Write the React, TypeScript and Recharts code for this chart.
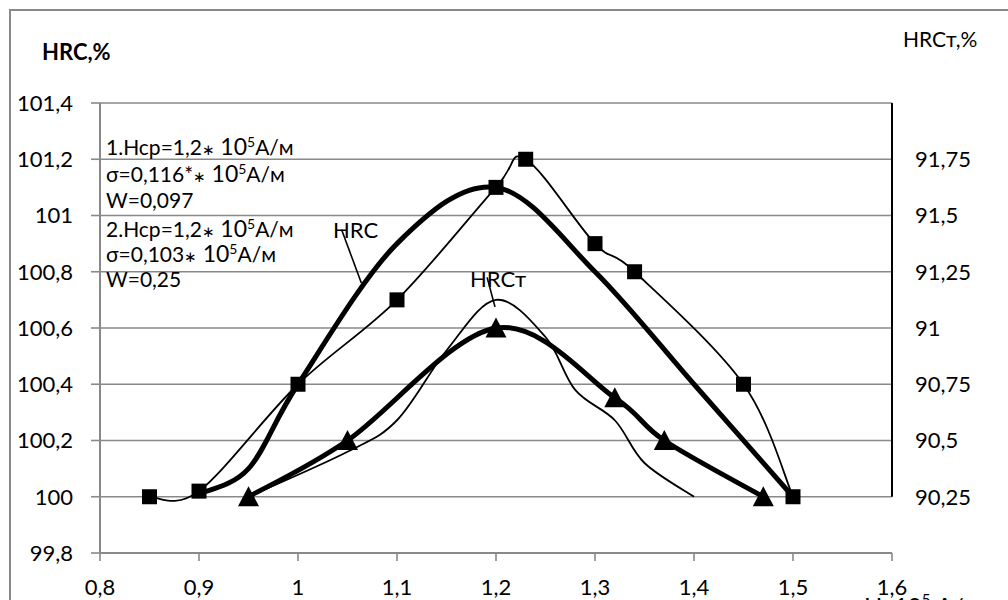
import React from 'react';
import { LineChart, Line, XAxis, YAxis, CartesianGrid, ReferenceLine } from 'recharts';

// Axis ticks
const xTicks = [0.8, 0.9, 1.0, 1.1, 1.2, 1.3, 1.4, 1.5, 1.6];
const leftTicks = [99.8, 100, 100.2, 100.4, 100.6, 100.8, 101, 101.2, 101.4];
const rightTicks = [90.25, 90.5, 90.75, 91, 91.25, 91.5, 91.75];

// HRC, measured points (thin line, squares)
const hrcMeasX = [0.85, 0.9, 1.0, 1.1, 1.2, 1.23, 1.3, 1.34, 1.45, 1.5];
const hrcMeasY = [100, 100.02, 100.4, 100.7, 101.1, 101.2, 100.9, 100.8, 100.4, 100];

// HRC, theoretical curve (thick line)
const hrcCurveX = [0.9, 0.95, 1.0, 1.1, 1.2, 1.3, 1.4, 1.5];
const hrcCurveY = [100.01, 100.1, 100.4, 100.9, 101.1, 100.8, 100.4, 100];

// HRCт, measured (thick line, triangles) - right axis
const hrctMeasX = [0.95, 1.05, 1.2, 1.32, 1.37, 1.47];
const hrctMeasY = [90.25, 90.5, 91.0, 90.69, 90.5, 90.25];

// HRCт, thin curve - right axis
const hrctCurveX = [0.95, 1.05, 1.1, 1.15, 1.2, 1.25, 1.28, 1.32, 1.35, 1.4];
const hrctCurveY = [90.25, 90.45, 90.59, 90.9, 91.125, 90.96, 90.725, 90.59, 90.4, 90.25];

const rows = (xs: number[], ys: number[]) => xs.map((x, i) => ({ x, y: ys[i] }));
const hrcMeas = rows(hrcMeasX, hrcMeasY);
const hrcCurve = rows(hrcCurveX, hrcCurveY);
const hrctMeas = rows(hrctMeasX, hrctMeasY);
const hrctCurve = rows(hrctCurveX, hrctCurveY);

// annotation leader lines (data coordinates, left axis)
const hrcLeader = [{ x: 1.044, y: 100.95 }, { x: 1.064, y: 100.76 }];
const hrctLeader = [{ x: 1.191, y: 100.78 }, { x: 1.199, y: 100.675 }];
const rightAxisLine = [{ x: 1.6, y: 90.25 }, { x: 1.6, y: 92 }];

const fmt = (v: number) => String(Math.round(v * 100) / 100).replace('.', ',');

const GRID = '#898989';
const FONT = 'Lato';

// Smoothed curve similar to spreadsheet "smoothed line"
const excelSmooth = (context: any) => {
  let pts: number[][] = [];
  return {
    areaStart() {},
    areaEnd() {},
    lineStart() {
      pts = [];
    },
    point(x: number, y: number) {
      pts.push([+x, +y]);
    },
    lineEnd() {
      const n = pts.length;
      if (n === 0) return;
      context.moveTo(pts[0][0], pts[0][1]);
      for (let i = 0; i < n - 1; i++) {
        const p0 = pts[i > 0 ? i - 1 : 0];
        const p1 = pts[i];
        const p2 = pts[i + 1];
        const p3 = pts[i + 2 < n ? i + 2 : n - 1];
        context.bezierCurveTo(
          p1[0] + (p2[0] - p0[0]) / 6,
          p1[1] + (p2[1] - p0[1]) / 6,
          p2[0] - (p3[0] - p1[0]) / 6,
          p2[1] - (p3[1] - p1[1]) / 6,
          p2[0],
          p2[1]
        );
      }
    },
  };
};

const Square = (props: any) => {
  const { cx, cy, index } = props;
  if (cx == null || cy == null) return <g key={`sq${index}`} />;
  return <rect key={`sq${index}`} x={cx - 7.5} y={cy - 7.5} width={15} height={15} fill="#000" />;
};

const Triangle = (props: any) => {
  const { cx, cy, index } = props;
  if (cx == null || cy == null) return <g key={`tr${index}`} />;
  return (
    <polygon
      key={`tr${index}`}
      points={`${cx},${cy - 10.5} ${cx - 10.5},${cy + 9.5} ${cx + 10.5},${cy + 9.5}`}
      fill="#000"
    />
  );
};

const tickStyle = { fill: '#000', fontSize: 22, fontFamily: FONT };

const Unit = ({ pre }: { pre: React.ReactNode }) => (
  <>
    {pre}
    <tspan fontSize={15}>∗</tspan>
    <tspan> </tspan>
    <tspan fontSize={23}>10</tspan>
    <tspan fontSize={14} dy={-8}>5</tspan>
    <tspan dy={8}>A/м</tspan>
  </>
);

export default function App() {
  return (
    <div
      style={{
        position: 'absolute',
        left: 0,
        top: 0,
        width: 1008,
        height: 600,
        overflow: 'hidden',
        background: '#fff',
        fontFamily: FONT,
      }}
    >
      <div
        style={{
          position: 'absolute',
          left: 9,
          top: 9,
          width: 1010,
          height: 600,
          borderLeft: `2px solid ${GRID}`,
          borderTop: `2px solid ${GRID}`,
        }}
      />
      <div style={{ position: 'absolute', left: 0, top: 0 }}>
        <LineChart width={1008} height={620} margin={{ top: 103, right: 10, bottom: 22, left: 10 }}>
          <CartesianGrid yAxisId="left" vertical={false} stroke={GRID} strokeWidth={1.6} />
          <XAxis
            type="number"
            dataKey="x"
            domain={[0.8, 1.6]}
            ticks={xTicks}
            interval={0}
            allowDataOverflow
            tickFormatter={fmt}
            tick={tickStyle}
            tickLine={{ stroke: GRID, strokeWidth: 1.6 }}
            axisLine={{ stroke: GRID, strokeWidth: 2 }}
            tickSize={8}
            tickMargin={18}
            height={45}
          />
          <YAxis
            yAxisId="left"
            orientation="left"
            type="number"
            domain={[99.8, 101.4]}
            ticks={leftTicks}
            interval={0}
            allowDataOverflow
            tickFormatter={fmt}
            tick={tickStyle}
            tickLine={{ stroke: GRID, strokeWidth: 1.6 }}
            axisLine={{ stroke: GRID, strokeWidth: 2 }}
            tickSize={9}
            tickMargin={18}
            width={90}
          />
          <YAxis
            yAxisId="right"
            orientation="right"
            type="number"
            domain={[90, 92]}
            ticks={rightTicks}
            interval={0}
            allowDataOverflow
            tickFormatter={fmt}
            tick={tickStyle}
            tickLine={false}
            axisLine={false}
            tickSize={0}
            tickMargin={23}
            width={106}
          />
          <ReferenceLine yAxisId="right" segment={rightAxisLine} stroke="#000" strokeWidth={2} ifOverflow="visible" />
          <ReferenceLine yAxisId="left" segment={hrcLeader} stroke="#000" strokeWidth={1.6} ifOverflow="visible" />
          <ReferenceLine yAxisId="left" segment={hrctLeader} stroke="#000" strokeWidth={1.6} ifOverflow="visible" />
          <Line
            yAxisId="left"
            data={hrcMeas}
            dataKey="y"
            type={excelSmooth as any}
            stroke="#000"
            strokeWidth={1.8}
            dot={Square}
            activeDot={false}
            isAnimationActive={false}
          />
          <Line
            yAxisId="left"
            data={hrcCurve}
            dataKey="y"
            type={excelSmooth as any}
            stroke="#000"
            strokeWidth={5}
            dot={false}
            activeDot={false}
            isAnimationActive={false}
          />
          <Line
            yAxisId="right"
            data={hrctCurve}
            dataKey="y"
            type={excelSmooth as any}
            stroke="#000"
            strokeWidth={1.8}
            dot={false}
            activeDot={false}
            isAnimationActive={false}
          />
          <Line
            yAxisId="right"
            data={hrctMeas}
            dataKey="y"
            type={excelSmooth as any}
            stroke="#000"
            strokeWidth={5}
            dot={Triangle}
            activeDot={false}
            isAnimationActive={false}
          />
        </LineChart>
      </div>
      <svg
        width={1008}
        height={600}
        style={{ position: 'absolute', left: 0, top: 0, pointerEvents: 'none' }}
        fontFamily={FONT}
        fill="#000"
      >
        <text x={42} y={60} fontSize={22} fontWeight="bold">HRC,%</text>
        <text x={903} y={47} fontSize={21}>HRCт,%</text>
        <text x={333} y={238} fontSize={22}>HRC</text>
        <text x={470} y={287} fontSize={22}>HRCт</text>
        <g fontSize={21}>
          <text x={106} y={155}><Unit pre="1.Hcp=1,2" /></text>
          <text x={106} y={182}><Unit pre={<>σ=0,116*</>} /></text>
          <text x={106} y={208}>W=0,097</text>
          <text x={106} y={237}><Unit pre="2.Hcp=1,2" /></text>
          <text x={106} y={262}><Unit pre="σ=0,103" /></text>
          <text x={106} y={287}>W=0,25</text>
        </g>
        <text x={864} y={615} fontSize={24}>
          H, 10<tspan fontSize={15} dy={-10}>5</tspan>
          <tspan dy={10}> А/м</tspan>
        </text>
      </svg>
    </div>
  );
}
